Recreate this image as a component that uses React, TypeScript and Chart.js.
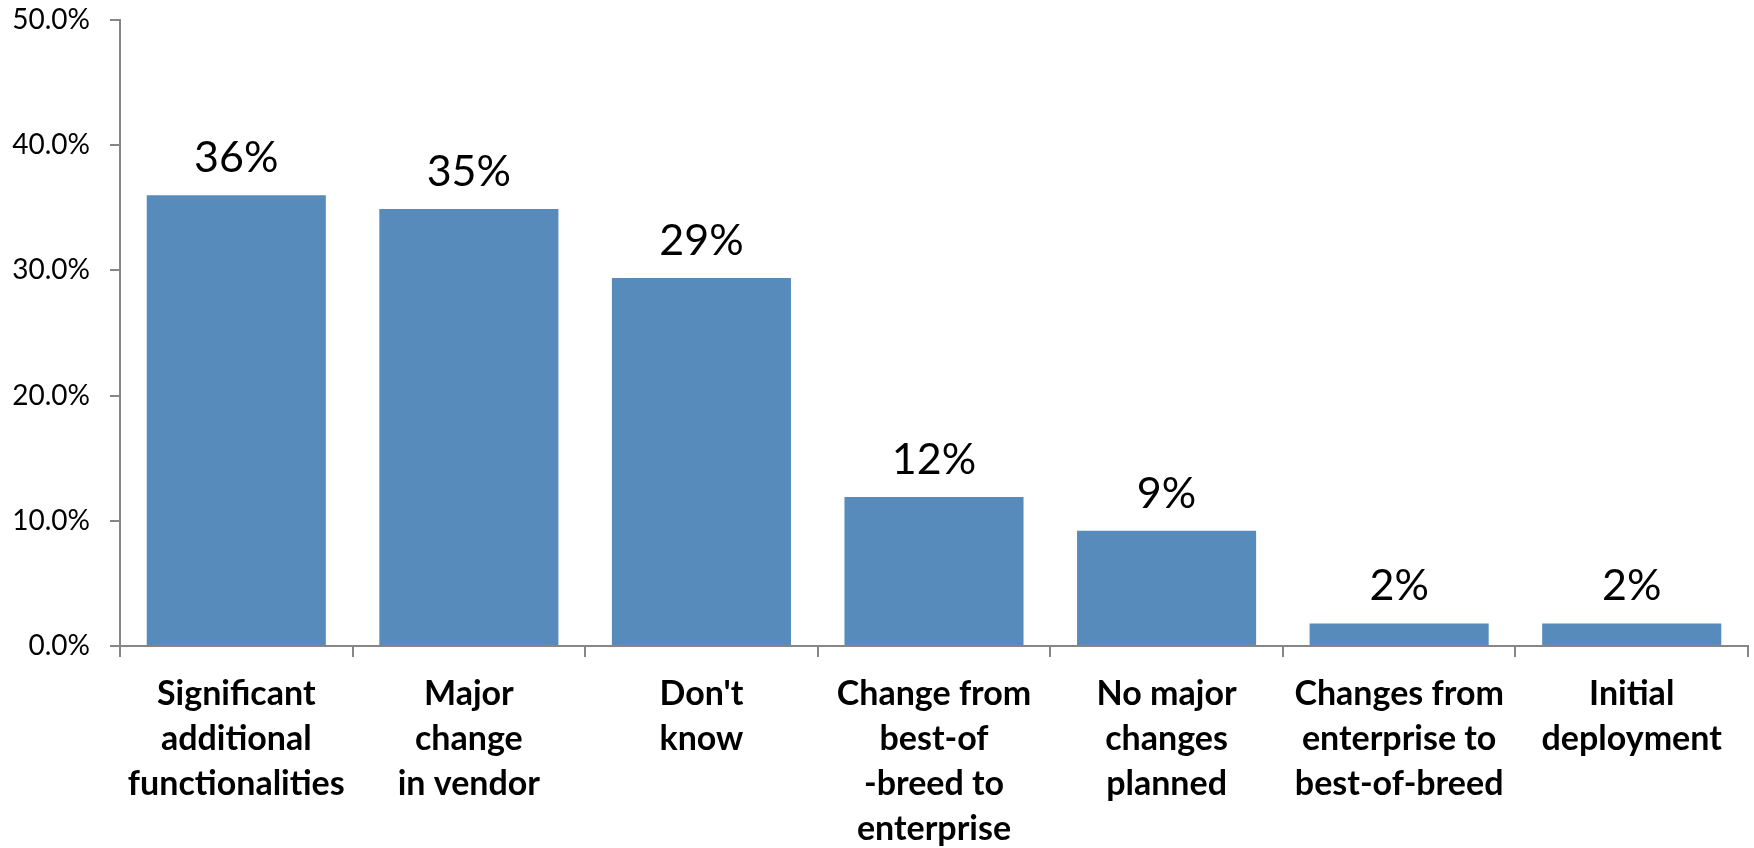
import React, { useEffect, useRef } from "react";
import { Chart, registerables } from "chart.js";

Chart.register(...registerables);

const categories: string[][] = [
  ["Significant", "additional", "functionalities"],
  ["Major", "change", "in vendor"],
  ["Don't", "know"],
  ["Change from", "best-of", "-breed to", "enterprise"],
  ["No major", "changes", "planned"],
  ["Changes from", "enterprise to", "best-of-breed"],
  ["Initial", "deployment"],
];
const values: number[] = [36.0, 34.9, 29.4, 11.9, 9.2, 1.8, 1.8];
const dataLabels: string[] = ["36%", "35%", "29%", "12%", "9%", "2%", "2%"];
const yTicks: number[] = [0, 10, 20, 30, 40, 50];

const FONT = "Lato, 'Open Sans', sans-serif";

const labelPlugin = {
  id: "barLabels",
  afterDatasetsDraw(chart: any) {
    const ctx = chart.ctx;
    const meta = chart.getDatasetMeta(0);
    ctx.save();
    ctx.fillStyle = "#000";
    ctx.font = `43px ${FONT}`;
    ctx.textAlign = "center";
    ctx.textBaseline = "alphabetic";
    meta.data.forEach((bar: any, i: number) => {
      ctx.fillText(dataLabels[i], bar.x, bar.y - 23);
    });
    ctx.restore();
  },
};

export default function App() {
  const ref = useRef<HTMLCanvasElement>(null);
  useEffect(() => {
    if (!ref.current) return;
    const chart = new Chart(ref.current, {
      type: "bar",
      data: {
        labels: categories,
        datasets: [
          {
            data: values,
            backgroundColor: "#568BBB",
            borderWidth: 0,
            categoryPercentage: 1,
            barPercentage: 0.77,
          },
        ],
      },
      options: {
        animation: false,
        responsive: false,
        maintainAspectRatio: false,
        layout: { padding: { left: 0, top: 20, right: 6, bottom: 0 } },
        plugins: { legend: { display: false }, tooltip: { enabled: false } },
        scales: {
          x: {
            grid: {
              display: true,
              drawOnChartArea: false,
              drawTicks: true,
              tickLength: 11,
              color: "#868686",
              lineWidth: 2,
              offset: true,
            },
            border: { display: true, color: "#868686", width: 2 },
            ticks: {
              color: "#000",
              font: { family: FONT, size: 34, weight: "bold", lineHeight: 1.33 },
              padding: 14,
              maxRotation: 0,
              autoSkip: false,
            },
            afterFit: (scale: any) => {
              scale.height = 202;
              scale.paddingLeft = 0;
              scale.paddingRight = 0;
            },
          },
          y: {
            min: 0,
            max: 50,
            afterBuildTicks: (scale: any) => {
              scale.ticks = yTicks.map((v) => ({ value: v }));
            },
            grid: {
              display: true,
              drawOnChartArea: false,
              drawTicks: true,
              tickLength: 10,
              color: "#868686",
              lineWidth: 2,
            },
            border: { display: true, color: "#868686", width: 2 },
            ticks: {
              color: "#000",
              font: { family: FONT, size: 28 },
              padding: 20,
              callback: (v: any) => Number(v).toFixed(1) + "%",
            },
            afterFit: (scale: any) => {
              scale.width = 120;
              scale.paddingTop = 0;
              scale.paddingBottom = 0;
            },
          },
        },
      },
      plugins: [labelPlugin],
    });
    return () => chart.destroy();
  }, []);
  return (
    <div style={{ position: "fixed", left: 0, top: 0, width: 1754, height: 848, background: "#fff" }}>
      <canvas ref={ref} width={1754} height={848} style={{ width: 1754, height: 848 }} />
    </div>
  );
}
